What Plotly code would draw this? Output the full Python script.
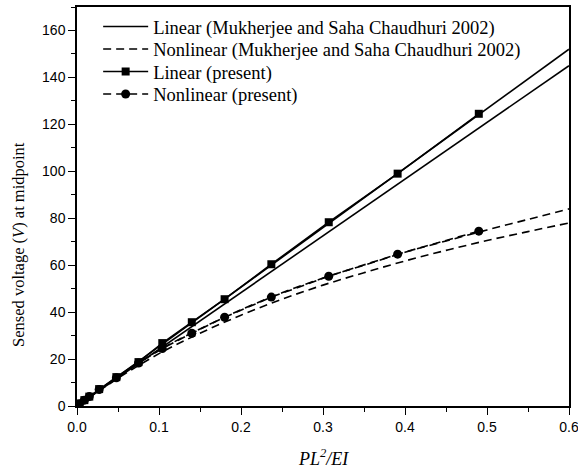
import plotly.graph_objects as go

# curves
x_line = [0.0, 0.6]
lin_mukh = [0.0, 145.0]
lin_present_fit = [0.0, 152.0]

x_curve = [0.0, 0.05, 0.1, 0.15, 0.2, 0.25, 0.3, 0.35, 0.4, 0.45, 0.5, 0.55, 0.6]
nonlin_mukh = [0.0, 11.8, 22.3, 31.0, 38.7, 45.5, 51.5, 56.8, 61.8, 66.3, 70.5, 74.3, 78.0]
nonlin_present_fit = [0.0, 12.3, 23.8, 32.8, 41.0, 48.2, 54.5, 60.0, 65.5, 70.3, 75.0, 79.5, 84.0]

# present computed points
x_pts = [0.003, 0.009, 0.015, 0.027, 0.048, 0.075, 0.104, 0.140, 0.180, 0.237, 0.307, 0.391, 0.490]
lin_pts = [1.0, 2.5, 4.0, 7.2, 12.3, 18.7, 26.8, 35.7, 45.5, 60.4, 78.3, 99.0, 124.5]
nonlin_pts = [1.0, 2.5, 4.0, 7.0, 12.0, 18.3, 24.5, 31.0, 37.8, 46.4, 55.3, 64.7, 74.5]

serif = "Liberation Serif, Times New Roman, serif"
sans = "Liberation Sans, Arial, sans-serif"
dash = "8px,5px"

fig = go.Figure()

# each legend row gets its own legend so the row spacing can match the original
fig.add_trace(go.Scatter(x=x_line, y=lin_mukh, mode="lines",
                         line=dict(color="black", width=1.6),
                         name="Linear (Mukherjee and Saha Chaudhuri 2002)", legend="legend"))
fig.add_trace(go.Scatter(x=x_curve, y=nonlin_mukh, mode="lines", line_shape="spline",
                         line=dict(color="black", width=1.6, dash=dash),
                         name="Nonlinear (Mukherjee and Saha Chaudhuri 2002)", legend="legend2"))
# fitted lines through present points, extended to 0.6
fig.add_trace(go.Scatter(x=x_curve, y=nonlin_present_fit, mode="lines", line_shape="spline",
                         line=dict(color="black", width=1.6, dash=dash),
                         showlegend=False, hoverinfo="skip"))
fig.add_trace(go.Scatter(x=x_line, y=lin_present_fit, mode="lines",
                         line=dict(color="black", width=1.6),
                         showlegend=False, hoverinfo="skip"))
fig.add_trace(go.Scatter(x=x_pts, y=nonlin_pts, mode="lines+markers",
                         line=dict(color="black", width=1.6, dash=dash),
                         marker=dict(symbol="circle", size=9, color="black"),
                         name="Nonlinear (present)", legend="legend4"))
fig.add_trace(go.Scatter(x=x_pts, y=lin_pts, mode="lines+markers",
                         line=dict(color="black", width=1.6),
                         marker=dict(symbol="square", size=8, color="black"),
                         name="Linear (present)", legend="legend3"))

axis_common = dict(showline=True, linecolor="black", linewidth=1.5, mirror=True,
                   ticks="outside", ticklen=7, tickwidth=1, tickcolor="black",
                   showgrid=False, zeroline=False, automargin=False,
                   ticklabeloverflow="allow",
                   tickfont=dict(family=sans, size=14, color="black"))

fig.update_xaxes(range=[0, 0.6], dtick=0.1, tickformat=".1f",
                 minor=dict(dtick=0.05, ticks="outside", ticklen=4, tickcolor="black"),
                 **axis_common)
fig.update_yaxes(range=[0, 170], dtick=20,
                 minor=dict(dtick=10, ticks="outside", ticklen=4, tickcolor="black"),
                 **axis_common)

# axis titles as annotations to place them like the original
fig.add_annotation(text="Sensed voltage (<i>V</i>) at midpoint", textangle=-90,
                   xref="paper", yref="paper", x=-0.12, y=0.406,
                   xanchor="center", yanchor="middle", showarrow=False,
                   font=dict(family=serif, size=16.5, color="black"))
fig.add_annotation(text="<i>PL<sup>2</sup>/EI</i>",
                   xref="paper", yref="paper", x=0.5, y=-0.128,
                   xanchor="center", yanchor="middle", showarrow=False,
                   font=dict(family=serif, size=18, color="black"))

legend_style = dict(x=0.043, xanchor="left", yanchor="middle",
                    bgcolor="rgba(0,0,0,0)", itemwidth=45,
                    font=dict(family=serif, size=18.5, color="black"))

fig.update_layout(
    width=578, height=470,
    margin=dict(l=77, r=9, t=7, b=64),
    paper_bgcolor="white", plot_bgcolor="white",
    legend=dict(y=0.950, **legend_style),
    legend2=dict(y=0.8935, **legend_style),
    legend3=dict(y=0.837, **legend_style),
    legend4=dict(y=0.7807, **legend_style),
)

fig.write_html("out.html", config={"displayModeBar": False},
               post_script="document.body.style.margin='0';")
